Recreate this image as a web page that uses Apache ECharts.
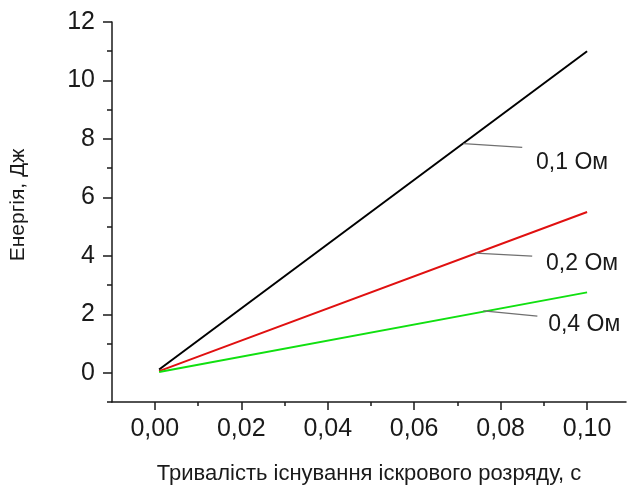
<!DOCTYPE html>
<html>
<head>
<meta charset="utf-8">
<script src="https://cdn.jsdelivr.net/npm/echarts@6/dist/echarts.min.js"></script>
<style>
html,body{margin:0;padding:0;background:#fff;}
#chart{width:628px;height:490px;}
</style>
</head>
<body>
<div id="chart"></div>
<script>
// ---- data ----
var times = [0.001, 0.1];
var energy01 = [0.11, 11.0];
var energy02 = [0.055, 5.5];
var energy04 = [0.0275, 2.75];
var seriesNames = ['0,1 Ом', '0,2 Ом', '0,4 Ом'];
var xMajorTicks = [0.00, 0.02, 0.04, 0.06, 0.08, 0.10];
var xMinorTicks = [0.01, 0.03, 0.05, 0.07, 0.09];
var yMajorTicks = [0, 2, 4, 6, 8, 10, 12];
var yMinorTicks = [-1, 1, 3, 5, 7, 9, 11];
// annotation leader lines: [startX, startY, endX, endY], label anchor [x, y]
var leader01 = [0.0714, 7.84, 0.0850, 7.71];
var leader02 = [0.0741, 4.09, 0.0873, 3.99];
var leader04 = [0.0760, 2.12, 0.0885, 1.94];
var labelAt01 = [0.0882, 7.20];
var labelAt02 = [0.0905, 3.72];
var labelAt04 = [0.0910, 1.64];

var font = 'Liberation Sans, Arial, sans-serif';
function pairs(xs, ys){ return xs.map(function(x,i){return [x, ys[i]];}); }
function fmt(v){ return v.toFixed(2).replace('.', ','); }

function makeSeries(name, ys, color, leader, labelAt){
  return {
    name: name, type: 'line', data: pairs(times, ys),
    showSymbol: false, symbol: 'none',
    lineStyle: {color: color, width: 2},
    itemStyle: {color: color},
    animation: false,
    markLine: {
      silent: true, symbol: 'none', animation: false,
      lineStyle: {color: '#707070', width: 1.2, type: 'solid'},
      label: {show: false},
      data: [[{coord: [leader[0], leader[1]]}, {coord: [leader[2], leader[3]]}]]
    },
    markPoint: {
      silent: true, symbol: 'circle', symbolSize: 0, animation: false,
      label: {show: true, position: 'right', distance: 0, formatter: name,
        color: '#1a1a1a', fontSize: 23, fontFamily: font},
      data: [{coord: labelAt}]
    }
  };
}

var chart = echarts.init(document.getElementById('chart'), null, {renderer: 'canvas'});
var axisLine = {show: true, onZero: false, lineStyle: {color: '#1a1a1a', width: 1.5}};
var commonX = {type: 'value', min: -0.0099, max: 0.109, splitLine: {show: false}};
chart.setOption({
  backgroundColor: '#fff',
  animation: false,
  grid: {left: 111, right: 2, top: 22, bottom: 87, containLabel: false},
  xAxis: [
    Object.assign({}, commonX, {
      position: 'bottom',
      axisLine: axisLine,
      axisTick: {show: true, inside: false, length: 8, customValues: xMajorTicks,
        lineStyle: {color: '#1a1a1a', width: 1.5}},
      axisLabel: {show: true, customValues: xMajorTicks, formatter: fmt, margin: 15,
        color: '#1a1a1a', fontSize: 25, fontFamily: font},
      name: 'Тривалість існування іскрового розряду, с',
      nameLocation: 'middle', nameGap: 61,
      nameTextStyle: {color: '#1a1a1a', fontSize: 22, fontFamily: font}
    }),
    Object.assign({}, commonX, {
      position: 'bottom',
      axisLine: {show: false, onZero: false},
      axisTick: {show: true, inside: false, length: 4, customValues: xMinorTicks,
        lineStyle: {color: '#1a1a1a', width: 1.5}},
      axisLabel: {show: false}
    })
  ],
  yAxis: [
    {
      type: 'value', min: -1, max: 12, position: 'left',
      splitLine: {show: false},
      axisLine: axisLine,
      axisTick: {show: true, inside: false, length: 9, customValues: yMajorTicks,
        lineStyle: {color: '#1a1a1a', width: 1.5}},
      axisLabel: {show: true, customValues: yMajorTicks, margin: 17,
        color: '#1a1a1a', fontSize: 25, fontFamily: font},
      name: 'Енергія, Дж', nameLocation: 'middle', nameGap: 83, nameRotate: 90,
      nameTextStyle: {color: '#1a1a1a', fontSize: 21, fontFamily: font, padding: [0, 0, 0, 14]}
    },
    {
      type: 'value', min: -1, max: 12, position: 'left',
      splitLine: {show: false},
      axisLine: {show: false, onZero: false},
      axisTick: {show: true, inside: false, length: 5, customValues: yMinorTicks,
        lineStyle: {color: '#1a1a1a', width: 1.5}},
      axisLabel: {show: false}
    }
  ],
  series: [
    makeSeries(seriesNames[0], energy01, '#000000', leader01, labelAt01),
    makeSeries(seriesNames[1], energy02, '#e01010', leader02, labelAt02),
    makeSeries(seriesNames[2], energy04, '#10e010', leader04, labelAt04)
  ]
});
</script>
</body>
</html>
